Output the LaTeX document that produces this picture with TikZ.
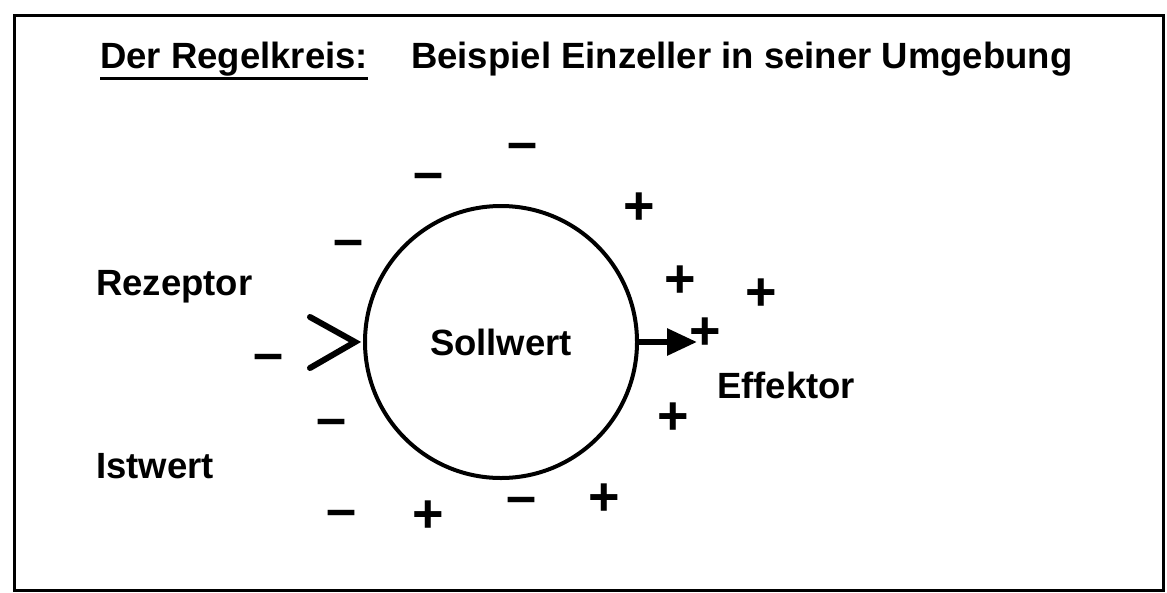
\documentclass[tikz,border=0pt]{standalone}
\usepackage{fontspec}
\setmainfont{Liberation Sans}
\usetikzlibrary{arrows.meta}

\begin{document}
\begin{tikzpicture}[
  x=1pt, y=-1pt,
  font=\bfseries\fontsize{36.5}{40}\selectfont,
  txt/.style={anchor=base west, inner sep=0},
  mns/.style={font=\bfseries\fontsize{54}{60}\selectfont, inner sep=0, yshift=-6pt},
  pls/.style={font=\bfseries\fontsize{54}{60}\selectfont, inner sep=0, yshift=-2pt},
  pfeil/.style={line width=6pt, -{Triangle[length=30pt, width=26pt]}},
]
\useasboundingbox (0,0) rectangle (1167,592);
\draw[line width=3pt] (14,15) rectangle (1163,590);
% --- Ueberschrift ---
\node[txt] (titel) at (100,68) {Der Regelkreis:};
\draw[line width=3pt] ([yshift=-10pt]titel.base west) -- ([yshift=-10pt]titel.base east);
\node[txt] (thema) at (411,68) {Beispiel Einzeller in seiner Umgebung};
% --- Zelle mit Rezeptor und Effektor ---
\node[circle, draw, line width=4pt, minimum size=272pt, inner sep=0] (zelle) at (501,342) {Sollwert};
\draw[line width=6pt, line cap=round] (310,317) -- ([xshift=-8pt]zelle.west) -- (310,368);
\coordinate (aus) at (697,342);
\draw[pfeil] (zelle.east) -- (aus);
\node[txt] (rezeptor) at (96,295) {Rezeptor};
\node[txt] (istwert) at (96,478) {Istwert};
\node[txt] (effektor) at (717,398) {Effektor};
% --- Ladungen ---
\foreach \p [count=\i] in {(523,146),(429,176),(349,243),(269,357),(332,422),(342,513),(522,500)}
  \node[mns] (m\i) at \p {–};
\foreach \p [count=\i] in {(639,207),(680,280),(761,293),(705,332),(673,417),(428,515),(604,498)}
  \node[pls] (p\i) at \p {+};
\end{tikzpicture}
\end{document}
